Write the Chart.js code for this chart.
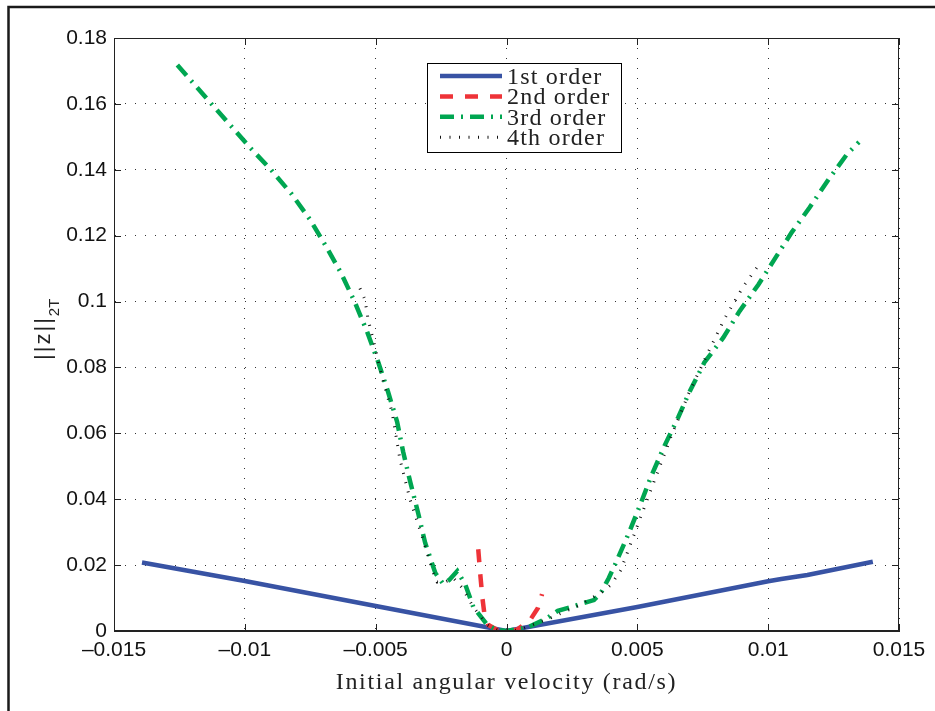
<!DOCTYPE html>
<html>
<head>
<meta charset="utf-8">
<script src="https://cdn.jsdelivr.net/npm/chart.js@4.4.0/dist/chart.umd.min.js"></script>
<style>
html,body{margin:0;padding:0;background:#fff;}
#wrap{width:935px;height:711px;position:relative;}
</style>
</head>
<body>
<div id="wrap"><canvas id="c" width="935" height="711"></canvas></div>
<script>
// ---- labels / ticks ----
const seriesLabels = ['1st order', '2nd order', '3rd order', '4th order'];
const xTicks = [-0.015, -0.01, -0.005, 0, 0.005, 0.01, 0.015];
const yTicks = [0, 0.02, 0.04, 0.06, 0.08, 0.1, 0.12, 0.14, 0.16, 0.18];
const xTitle = 'Initial angular velocity (rad/s)';
const yTitleMain = '||z||';
const yTitleSub = '2T';

// ---- 1st order ----
const firstX = [-0.01393, -0.010, -0.005, 0, 0.005, 0.010, 0.0105, 0.0115, 0.0140];
const firstY = [0.0208, 0.0152, 0.0076, 0, 0.0073, 0.0151, 0.0158, 0.0170, 0.0210];

// ---- 2nd order ----
const secondX = [-0.00108, -0.00100, -0.00092, -0.00085, -0.00069, -0.00035, 0, 0.00040, 0.00090, 0.00120, 0.00136];
const secondY = [0.0248, 0.0170, 0.0100, 0.0055, 0.0018, 0.0003, 0, 0.0004, 0.0033, 0.0070, 0.0112];

// ---- 3rd order ----
const thirdX = [-0.01258, -0.01120, -0.00982, -0.00900, -0.00821, -0.00750, -0.00687, -0.00630, -0.00579, -0.00533, -0.00491, -0.00453,
  -0.00418, -0.00395, -0.00368, -0.00338, -0.00311, -0.00272, -0.00242, -0.00219, -0.00188, -0.00157,
  -0.00127, -0.00073, -0.00035, 0, 0.00046, 0.00084, 0.00157, 0.00196, 0.00272, 0.00334, 0.00361,
  0.00391, 0.00418, 0.00468, 0.00514, 0.00552, 0.00602, 0.00656, 0.00698, 0.00756, 0.00829, 0.00890,
  0.00963, 0.01024, 0.01090, 0.01159, 0.01231, 0.01301, 0.01347];
const thirdY = [0.1718, 0.1593, 0.1469, 0.1400, 0.1326, 0.1248, 0.1164, 0.1083, 0.0997, 0.0909, 0.0818, 0.0727,
  0.0635, 0.0544, 0.0453, 0.0359, 0.0268, 0.0176, 0.0143, 0.0155, 0.0182, 0.0140,
  0.0073, 0.0018, 0.0003, 0, 0.0006, 0.0012, 0.0040, 0.0061, 0.0079, 0.0094, 0.0116,
  0.0161, 0.0207, 0.0298, 0.0389, 0.0468, 0.0559, 0.0648, 0.0724, 0.0815, 0.0891, 0.0970,
  0.1052, 0.1128, 0.1210, 0.1286, 0.1371, 0.1447, 0.1484];

// ---- 4th order ----
const fourthX = [-0.00560, -0.00541, -0.00529, -0.00503, -0.00476, -0.00437, -0.00407, -0.00368, -0.00322,
  -0.00284, -0.00265, -0.00234, -0.00203, -0.00169, -0.00127, -0.00073, -0.00035, 0, 0.00046, 0.00157,
  0.00272, 0.00361, 0.00399, 0.00437, 0.00476, 0.00552, 0.00629, 0.00698, 0.00763, 0.00832, 0.00905, 0.00974];
const fourthY = [0.1040, 0.1006, 0.0946, 0.0863, 0.0772, 0.0663, 0.0520, 0.0398, 0.0286,
  0.0185, 0.0149, 0.0149, 0.0161, 0.0131, 0.0073, 0.0018, 0.0003, 0, 0.0003, 0.0036,
  0.0076, 0.0116, 0.0140, 0.0185, 0.0268, 0.0429, 0.0590, 0.0724, 0.0833, 0.0946, 0.1046, 0.1122];

const colors = ['#3853a4', '#ee3338', '#00a651', '#111111'];
const widths = [4.5, 4.5, 4.5, 3];
const dashes = [[], [13, 12], [14, 7, 2, 7], [1, 8.5]];

const pts = (xs, ys) => xs.map((x, i) => ({x: x, y: ys[i]}));
const seriesData = [pts(firstX, firstY), pts(secondX, secondY), pts(thirdX, thirdY), pts(fourthX, fourthY)];

function fmt(v) {
  const s = String(parseFloat(Math.abs(v).toFixed(4)));
  return (v < -1e-12 ? '\u2013' : '') + s;
}

const decor = {
  id: 'decor',
  beforeDraw(chart) {
    const ctx = chart.ctx;
    ctx.save();
    ctx.fillStyle = '#fff';
    ctx.fillRect(0, 0, chart.width, chart.height);
    ctx.restore();
  },
  afterDraw(chart) {
    const ctx = chart.ctx;
    const a = chart.chartArea;
    const xs = chart.scales.x, ys = chart.scales.y;
    ctx.save();
    // outer frame (top and left)
    ctx.strokeStyle = '#1a1a1a';
    ctx.lineWidth = 2.5;
    ctx.beginPath();
    ctx.moveTo(8.5, 711); ctx.lineTo(8.5, 7); ctx.lineTo(935, 7);
    ctx.stroke();
    // axes box
    ctx.strokeStyle = '#222';
    ctx.lineWidth = 1;
    ctx.strokeRect(a.left + 0.5, a.top + 0.5, a.right - a.left - 1, a.bottom - a.top - 1);
    // inner ticks
    const tl = 7;
    ctx.beginPath();
    xTicks.forEach(v => {
      const px = Math.round(xs.getPixelForValue(v)) + 0.5;
      ctx.moveTo(px, a.bottom); ctx.lineTo(px, a.bottom - tl);
      ctx.moveTo(px, a.top); ctx.lineTo(px, a.top + tl);
    });
    yTicks.forEach(v => {
      const py = Math.round(ys.getPixelForValue(v)) + 0.5;
      ctx.moveTo(a.left, py); ctx.lineTo(a.left + tl, py);
      ctx.moveTo(a.right, py); ctx.lineTo(a.right - tl, py);
    });
    ctx.stroke();

    // legend
    const bx = 427.5, by = 63.5, bw = 194, bh = 89;
    ctx.fillStyle = '#fff';
    ctx.fillRect(bx, by, bw, bh);
    ctx.strokeStyle = '#000';
    ctx.lineWidth = 1;
    ctx.strokeRect(bx, by, bw, bh);
    chart.data.datasets.forEach((ds, i) => {
      const ry = 76 + i * 20.4;
      ctx.save();
      ctx.strokeStyle = ds.borderColor;
      ctx.lineWidth = ds.borderWidth;
      ctx.setLineDash(ds.borderDash || []);
      ctx.lineCap = 'butt';
      ctx.beginPath();
      ctx.moveTo(440, ry); ctx.lineTo(502, ry);
      ctx.stroke();
      ctx.restore();
      ctx.fillStyle = '#222';
      ctx.font = '24px "Liberation Serif"';
      try { ctx.letterSpacing = '1.2px'; } catch (e) {}
      ctx.textBaseline = 'alphabetic';
      ctx.textAlign = 'left';
      ctx.fillText(ds.label, 507, ry + 8);
    });

    // x title
    ctx.fillStyle = '#222';
    ctx.font = '24px "Liberation Serif"';
    try { ctx.letterSpacing = '1.7px'; } catch (e) {}
    ctx.textAlign = 'center';
    ctx.textBaseline = 'alphabetic';
    ctx.fillText(xTitle, (a.left + a.right) / 2, 689);

    // y title
    try { ctx.letterSpacing = '2px'; } catch (e) {}
    ctx.translate(50, 360);
    ctx.rotate(-Math.PI / 2);
    ctx.textAlign = 'left';
    ctx.font = '22px "Liberation Sans"';
    ctx.fillText(yTitleMain, 0, 0);
    const w = ctx.measureText(yTitleMain).width;
    try { ctx.letterSpacing = '0px'; } catch (e) {}
    ctx.font = '15px "Liberation Sans"';
    ctx.fillText(yTitleSub, w, 9);
    ctx.restore();
  }
};

const datasets = seriesData.map((d, i) => ({
  label: seriesLabels[i],
  data: d,
  borderColor: colors[i],
  backgroundColor: colors[i],
  borderWidth: widths[i],
  borderDash: dashes[i],
  borderCapStyle: 'butt',
  borderJoinStyle: 'miter',
  pointRadius: 0,
  tension: 0,
  fill: false,
  order: 4 - i
}));

new Chart(document.getElementById('c'), {
  type: 'line',
  data: {datasets: datasets},
  options: {
    responsive: false,
    animation: false,
    devicePixelRatio: 1,
    layout: {padding: {left: 0, top: 38, right: 36, bottom: 0}},
    plugins: {legend: {display: false}, tooltip: {enabled: false}, title: {display: false}},
    scales: {
      x: {
        type: 'linear',
        min: -0.015, max: 0.015,
        afterBuildTicks: s => { s.ticks = xTicks.map(v => ({value: v})); },
        afterFit: s => { s.height = 80; },
        ticks: {
          callback: v => fmt(v),
          font: {family: 'Liberation Sans', size: 21},
          color: '#111',
          padding: 7,
          maxRotation: 0,
          autoSkip: false
        },
        grid: {color: '#333', lineWidth: 1, drawTicks: false},
        border: {display: true, color: '#222', width: 1, dash: [1, 9]}
      },
      y: {
        type: 'linear',
        min: 0, max: 0.18,
        afterBuildTicks: s => { s.ticks = yTicks.map(v => ({value: v})); },
        afterFit: s => { s.width = 114; },
        ticks: {
          callback: v => fmt(v),
          font: {family: 'Liberation Sans', size: 21},
          color: '#111',
          padding: 7,
          autoSkip: false
        },
        grid: {color: '#333', lineWidth: 1, drawTicks: false},
        border: {display: true, color: '#222', width: 1, dash: [1, 9]}
      }
    }
  },
  plugins: [decor]
});
</script>
</body>
</html>
